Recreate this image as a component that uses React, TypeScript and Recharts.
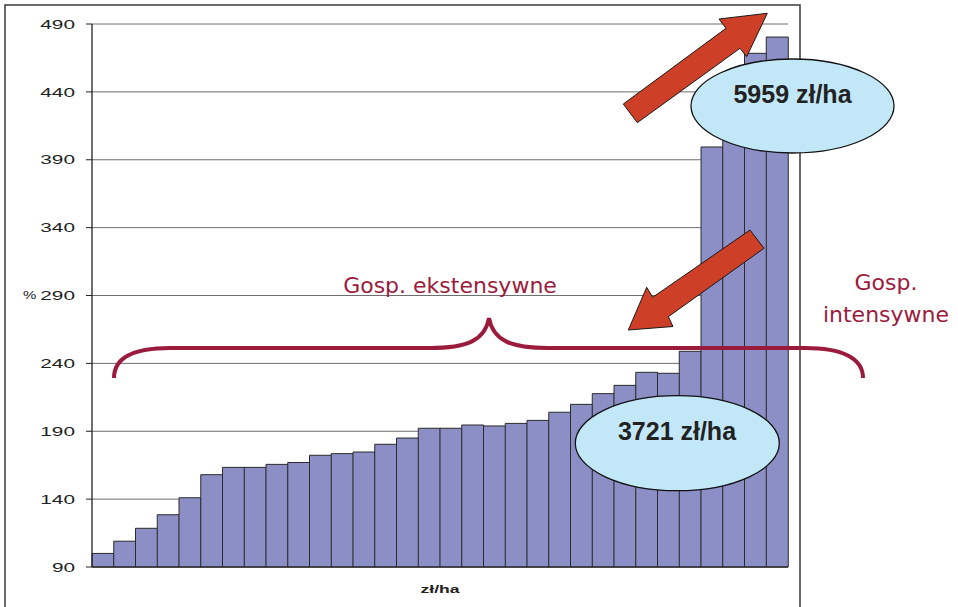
import { BarChart, Bar, XAxis, YAxis, CartesianGrid, Label } from "recharts";

// farm groups sorted by relative income (no category labels shown on the axis)
const groups = [
  "1", "2", "3", "4", "5", "6", "7", "8", "9", "10", "11", "12", "13", "14", "15", "16",
  "17", "18", "19", "20", "21", "22", "23", "24", "25", "26", "27", "28", "29", "30", "31", "32",
];

// % values
const relativeIncome = [
  100, 109, 118.5, 128.5, 141, 158, 163.4, 163.4, 165.6, 167, 172.3, 173.5, 174.7, 180.4, 185, 192.2,
  192.2, 194.6, 193.9, 195.8, 198, 204, 209.8, 217.7, 223.8, 233.4, 232.7, 248.9, 399.4, 430, 468.4, 480.4,
];

const yTicks = [90, 140, 190, 240, 290, 340, 390, 440, 490];

const data = groups.map((g, i) => ({ group: g, value: relativeIncome[i] }));

const WINE = "#9B1B3C";
const ARROW = "#CD4027";
const BUBBLE = "#C2E8F8";

function YTick(props: any) {
  const { x, y, payload } = props;
  return (
    <text
      transform={`translate(${x},${y}) scale(1.6,1)`}
      textAnchor="end"
      dy="0.36em"
      fontSize={13}
      fill="#222"
      fontFamily="'Liberation Sans', Arial, sans-serif"
    >
      {payload.value}
    </text>
  );
}

function UnitLabel(props: any) {
  const vb = props.viewBox;
  return (
    <text
      transform={`translate(${vb.x + vb.width / 2},${vb.y + 26}) scale(1.6,1)`}
      textAnchor="middle"
      fontSize={11}
      fontWeight="bold"
      fill="#222"
      fontFamily="'Liberation Sans', Arial, sans-serif"
    >
      zł/ha
    </text>
  );
}

function PercentLabel(props: any) {
  const vb = props.viewBox;
  return (
    <text
      transform={`translate(${vb.x + 3},${vb.y + vb.height / 2}) scale(1.5,1)`}
      textAnchor="start"
      dy="0.36em"
      fontSize={10}
      fill="#222"
      fontFamily="'Liberation Sans', Arial, sans-serif"
    >
      %
    </text>
  );
}

export default function App() {
  return (
    <div style={{ position: "absolute", left: 0, top: 0, width: 958, height: 607, background: "#fff", overflow: "hidden" }}>
      <BarChart
        width={958}
        height={607}
        data={data}
        margin={{ top: 24, right: 170, bottom: 0, left: 20 }}
        barCategoryGap={0}
      >
        <CartesianGrid vertical={false} stroke="#6e6e6e" />
        <XAxis dataKey="group" height={40} tick={false} tickLine={false} axisLine={{ stroke: "#222" }}>
          <Label content={UnitLabel} />
        </XAxis>
        <YAxis
          width={72}
          domain={[90, 490]}
          ticks={yTicks}
          interval={0}
          tickSize={6}
          tickMargin={11}
          tick={YTick}
          axisLine={{ stroke: "#222", strokeWidth: 1.3 }}
          tickLine={{ stroke: "#222" }}
        >
          <Label content={PercentLabel} />
        </YAxis>
        <Bar dataKey="value" fill="#8C8FC6" stroke="#2a2a2a" strokeWidth={1} isAnimationActive={false} />
      </BarChart>

      <svg width={958} height={607} style={{ position: "absolute", left: 0, top: 0, pointerEvents: "none" }}>
        {/* outer frame */}
        <path d="M5,607 V5 H800 V607" fill="none" stroke="#3a3a3a" strokeWidth={1.5} />

        {/* brace */}
        <path
          d="M114,378 C114,358 132,348 170,348 L430,348 C466,348 485,341 489,318 C493,341 512,348 548,348 L805,348 C842,348 863,358 863,378"
          fill="none"
          stroke={WINE}
          strokeWidth={4}
        />

        {/* arrows */}
        <polygon
          points="623.3,104 726,28.3 719,19 767.3,13.3 746.7,56.7 740,48.3 637.3,122.7"
          fill={ARROW}
          stroke="#1a1a1a"
          strokeWidth={1}
        />
        <polygon
          points="750,230 652.7,297.3 646.7,287.3 628.3,330 673,326.5 668.3,316.7 764,248.3"
          fill={ARROW}
          stroke="#1a1a1a"
          strokeWidth={1}
        />

        {/* bubbles */}
        <ellipse cx={792.5} cy={106} rx={101.5} ry={47} fill={BUBBLE} stroke="#111" strokeWidth={1.3} />
        <text x={792.5} y={103} textAnchor="middle" fontSize={25} fontWeight="bold" fill="#222" fontFamily="'Liberation Sans', Arial, sans-serif">
          5959 zł/ha
        </text>
        <ellipse cx={677.3} cy={443.2} rx={102} ry={47.5} fill={BUBBLE} stroke="#111" strokeWidth={1.3} />
        <text x={677} y={440} textAnchor="middle" fontSize={25} fontWeight="bold" fill="#222" fontFamily="'Liberation Sans', Arial, sans-serif">
          3721 zł/ha
        </text>

        {/* group captions */}
        <text x={450} y={293} textAnchor="middle" fontSize={22} fill={WINE} fontFamily="'DejaVu Sans', sans-serif">
          Gosp. ekstensywne
        </text>
        <text x={886} y={290} textAnchor="middle" fontSize={22} fill={WINE} fontFamily="'DejaVu Sans', sans-serif">
          Gosp.
        </text>
        <text x={886} y={322} textAnchor="middle" fontSize={22} fill={WINE} fontFamily="'DejaVu Sans', sans-serif">
          intensywne
        </text>
      </svg>
    </div>
  );
}
